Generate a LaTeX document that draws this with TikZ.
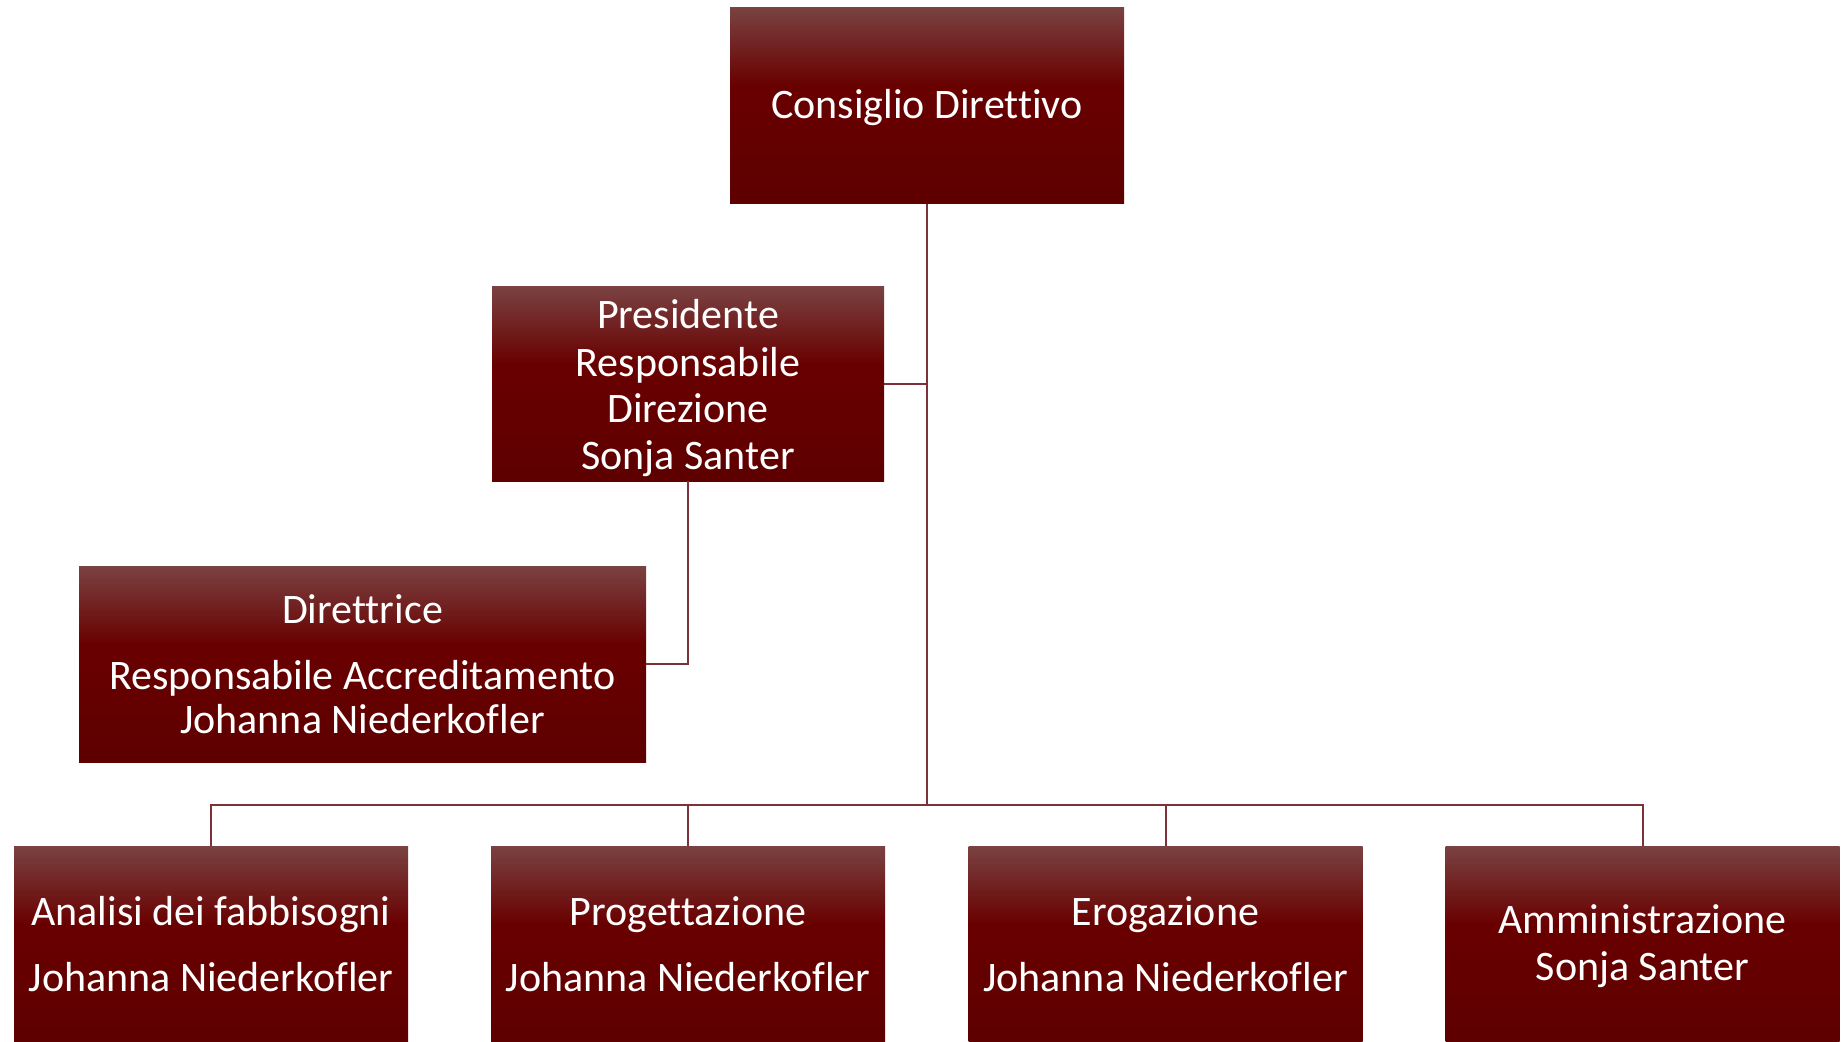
\documentclass[tikz,border=0pt]{standalone}
\usepackage{fontspec}
\setmainfont{Carlito}[Ligatures=NoCommon]
\definecolor{boxtop}{RGB}{122,66,66}
\definecolor{boxmid}{RGB}{105,0,0}
\definecolor{boxbot}{RGB}{94,0,0}
\definecolor{linec}{RGB}{125,50,58}
\pgfdeclareverticalshading{boxshade}{100bp}{color(0bp)=(boxbot); color(25bp)=(boxbot); color(55bp)=(boxmid); color(75bp)=(boxtop); color(100bp)=(boxtop)}
\tikzset{
  boxtext/.style={text=white, align=center, inner sep=0pt,
    font=\fontsize{21}{23.5}\selectfont},
  orgbox/.style={boxtext, shading=boxshade, minimum width=197pt, minimum height=98pt},
  link/.style={draw=linec, line width=1pt}
}
\begin{document}
\begin{tikzpicture}[x=0.5pt,y=-0.5pt]
\clip (0,0) rectangle (1845,1041);
\fill[white] (0,0) rectangle (1845,1041);
\node[orgbox] (cd) at (927,105.5) {};
\node[boxtext] (cdtxt) at ([yshift=-1.2pt]cd.center) {Consiglio Direttivo};
\node[orgbox, minimum width=196pt, minimum height=97.5pt] (pres) at (688,383.5) {};
\node[boxtext] (prestxt) at ([yshift=-2.5pt]pres.center) {Presidente\\Responsabile\\Direzione\\Sonja Santer};
\node[orgbox, minimum width=283.5pt] (dir) at (362.5,664) {Direttrice\\[9.5pt]Responsabile Accreditamento\\[-1.5pt]Johanna Niederkofler};
\node[orgbox] (an) at (211,944) {Analisi dei fabbisogni\\[9.5pt]Johanna Niederkofler};
\node[orgbox] (pr) at (688,944) {Progettazione\\[9.5pt]Johanna Niederkofler};
\node[orgbox] (er) at (1165.5,944) {Erogazione\\[9.5pt]Johanna Niederkofler};
\node[orgbox] (am) at (1642.5,944) {};
\node[boxtext] (amtxt) at ([yshift=-1.2pt]am.center) {Amministrazione\\Sonja Santer};
\coordinate (bus) at (927,805);
\draw[link] (cd.south) -- (bus);
\draw[link] (pres.east) -- (pres.east -| cd.south);
\draw[link] (pres.south) |- (dir.east);
\draw[link] (bus) -| (an.north);
\draw[link] (bus) -| (pr.north);
\draw[link] (bus) -| (er.north);
\draw[link] (bus) -| (am.north);
\end{tikzpicture}
\end{document}
